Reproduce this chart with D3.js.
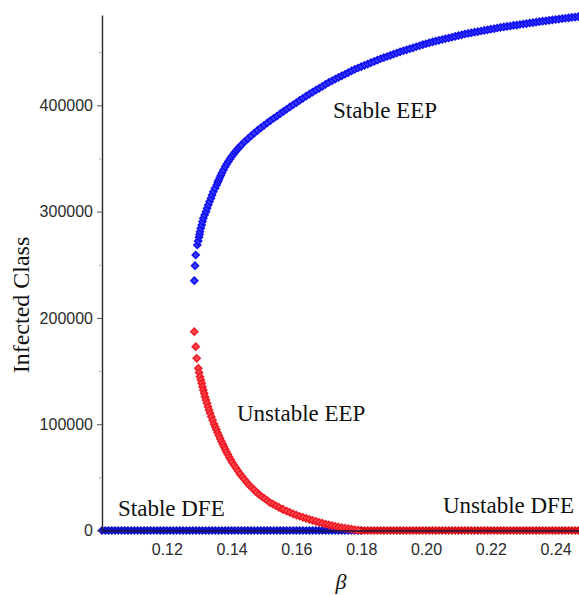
<!DOCTYPE html>
<html>
<head>
<meta charset="utf-8">
<script src="https://cdn.jsdelivr.net/npm/d3@7/dist/d3.min.js"></script>
<style>
  body { margin: 0; background: #fff; }
  svg { display: block; }
</style>
</head>
<body>
<svg id="chart" width="579" height="595"></svg>
<script>
// ---- Bifurcation data: infected class I against transmission rate beta ----

// Stable endemic equilibrium (upper branch), from the fold upwards
const stableEepBeta = [
  0.12849, 0.12870, 0.12892, 0.12941, 0.12969, 0.12994, 0.13009, 0.13025, 0.13049, 0.13077,
  0.13102, 0.13127, 0.13167, 0.13210, 0.13244, 0.13281, 0.13321, 0.13364, 0.13398, 0.13435,
  0.13488, 0.13540, 0.13571, 0.136, 0.13633, 0.13667, 0.137, 0.1375, 0.138, 0.1385,
  0.139, 0.1395, 0.140, 0.1405, 0.141, 0.1415, 0.142, 0.1425, 0.143, 0.144,
  0.145, 0.146, 0.147, 0.148, 0.149, 0.150, 0.151, 0.152, 0.153, 0.154,
  0.155, 0.156, 0.157, 0.158, 0.159, 0.160, 0.161, 0.162, 0.163, 0.164,
  0.165, 0.166, 0.167, 0.168, 0.169, 0.170, 0.171, 0.172, 0.173, 0.174,
  0.175, 0.176, 0.177, 0.178, 0.179, 0.180, 0.181, 0.182, 0.183, 0.184,
  0.185, 0.186, 0.187, 0.188, 0.189, 0.190, 0.191, 0.192, 0.193, 0.194,
  0.195, 0.196, 0.197, 0.198, 0.199, 0.200, 0.201, 0.202, 0.203, 0.204,
  0.205, 0.206, 0.207, 0.208, 0.209, 0.210, 0.211, 0.212, 0.213, 0.214,
  0.215, 0.216, 0.217, 0.218, 0.219, 0.220, 0.221, 0.222, 0.223, 0.224,
  0.225, 0.226, 0.227, 0.228, 0.229, 0.230, 0.231, 0.232, 0.233, 0.234,
  0.235, 0.236, 0.237, 0.238, 0.239, 0.240, 0.241, 0.242, 0.243, 0.244,
  0.245, 0.246, 0.247, 0.248
];
const stableEepI = [
  235000, 249100, 259200, 268600, 272300, 275800, 278400, 281100, 284300, 287400,
  290600, 293700, 296800, 299900, 303100, 306200, 309400, 312500, 315600, 318700,
  321900, 325000, 327500, 329400, 331800, 334000, 336200, 339200, 342100, 344700,
  347100, 349600, 351600, 353700, 355800, 357500, 359300, 361000, 362600, 365700,
  368500, 371200, 373800, 376400, 378700, 381100, 383400, 385600, 387800, 389900,
  392100, 394200, 396300, 398500, 400500, 402500, 404600, 406600, 408600, 410500,
  412400, 414200, 416000, 417800, 419700, 421500, 423100, 424700, 426200, 427700,
  429200, 430800, 432300, 433800, 435100, 436300, 437600, 438800, 440100, 441300,
  442500, 443800, 444900, 445900, 447000, 448100, 449200, 450300, 451300, 452200,
  453200, 454100, 455100, 456000, 457000, 457900, 458800, 459600, 460400, 461100,
  461900, 462600, 463300, 464000, 464800, 465600, 466300, 467100, 467600, 468200,
  468800, 469300, 469900, 470400, 471000, 471600, 472100, 472700, 473300, 473700,
  474200, 474600, 475100, 475500, 476000, 476500, 476900, 477400, 477800, 478300,
  478700, 479100, 479500, 479900, 480300, 480700, 481100, 481500, 481900, 482300,
  482700, 483000, 483400, 483800
];

// Unstable endemic equilibrium (lower branch), from the fold down to I = 0
const unstableEepBeta = [
  0.12849, 0.12892, 0.12923, 0.12972, 0.12997, 0.13025, 0.13051, 0.13077, 0.13102, 0.13127,
  0.13153, 0.13179, 0.13210, 0.13241, 0.13272, 0.13302, 0.13338, 0.13373, 0.13415, 0.13457,
  0.13493, 0.13529, 0.13565, 0.13606, 0.13647, 0.13688, 0.13727, 0.13765, 0.13804, 0.13843,
  0.13885, 0.13927, 0.13970, 0.14012, 0.14074, 0.14136, 0.14198, 0.14259, 0.14329, 0.14398,
  0.14468, 0.14537, 0.14614, 0.14691, 0.14769, 0.14846, 0.14931, 0.15015, 0.15100, 0.15185,
  0.15278, 0.15370, 0.15463, 0.15556, 0.156, 0.157, 0.158, 0.159, 0.160, 0.161,
  0.162, 0.163, 0.164, 0.165, 0.166, 0.167, 0.168, 0.169, 0.170, 0.171,
  0.172, 0.173, 0.174, 0.175, 0.176, 0.177, 0.178, 0.179
];
const unstableEepI = [
  187000, 172900, 162000, 152600, 148600, 144700, 141600, 138500, 135300, 132200,
  129000, 125900, 122800, 119700, 116500, 113400, 110200, 107100, 103600, 100200,
  97500, 94900, 92200, 89400, 86500, 83700, 81200, 78800, 76300, 73800,
  71500, 69100, 66800, 64400, 61600, 58800, 56000, 53100, 50600, 48000,
  45400, 42800, 40600, 38300, 36100, 33900, 32000, 30100, 28200, 26300,
  24800, 23300, 21700, 20200, 19600, 18300, 17000, 15700, 14500, 13400,
  12400, 11400, 10400, 9500, 8600, 7700, 6900, 6000, 5300, 4600,
  4000, 3300, 2700, 2200, 1700, 1300, 800, 400
];

// Disease-free equilibrium (I = 0): stable below beta = 0.18, unstable above
const stableDfeBeta = [
  0.100, 0.101, 0.102, 0.103, 0.104, 0.105, 0.106, 0.107, 0.108, 0.109,
  0.110, 0.111, 0.112, 0.113, 0.114, 0.115, 0.116, 0.117, 0.118, 0.119,
  0.120, 0.121, 0.122, 0.123, 0.124, 0.125, 0.126, 0.127, 0.128, 0.129,
  0.130, 0.131, 0.132, 0.133, 0.134, 0.135, 0.136, 0.137, 0.138, 0.139,
  0.140, 0.141, 0.142, 0.143, 0.144, 0.145, 0.146, 0.147, 0.148, 0.149,
  0.150, 0.151, 0.152, 0.153, 0.154, 0.155, 0.156, 0.157, 0.158, 0.159,
  0.160, 0.161, 0.162, 0.163, 0.164, 0.165, 0.166, 0.167, 0.168, 0.169,
  0.170, 0.171, 0.172, 0.173, 0.174, 0.175, 0.176, 0.177, 0.178, 0.179,
  0.180
];
const unstableDfeBeta = [
  0.180, 0.181, 0.182, 0.183, 0.184, 0.185, 0.186, 0.187, 0.188, 0.189,
  0.190, 0.191, 0.192, 0.193, 0.194, 0.195, 0.196, 0.197, 0.198, 0.199,
  0.200, 0.201, 0.202, 0.203, 0.204, 0.205, 0.206, 0.207, 0.208, 0.209,
  0.210, 0.211, 0.212, 0.213, 0.214, 0.215, 0.216, 0.217, 0.218, 0.219,
  0.220, 0.221, 0.222, 0.223, 0.224, 0.225, 0.226, 0.227, 0.228, 0.229,
  0.230, 0.231, 0.232, 0.233, 0.234, 0.235, 0.236, 0.237, 0.238, 0.239,
  0.240, 0.241, 0.242, 0.243, 0.244, 0.245, 0.246, 0.247, 0.248, 0.249,
  0.250
];
const dfeI = 0;

// Axis ticks
const xTicks = [0.12, 0.14, 0.16, 0.18, 0.20, 0.22, 0.24];
const yTicks = [0, 100000, 200000, 300000, 400000];
const yMinorTicks = [50000, 150000, 250000, 350000, 450000];

// Region labels
const regionLabels = ["Stable EEP", "Unstable EEP", "Stable DFE", "Unstable DFE"];

// ---- Layout ----
const width = 579, height = 595;
const left = 102, bottom = 530.5;
const pxPer100k = 106.3;
const yMax = 485000;

const x = d3.scaleLinear().domain([0.10, 0.25]).range([left, left + 0.15 * 3240]);
const y = d3.scaleLinear().domain([0, yMax]).range([bottom, bottom - yMax / 100000 * pxPer100k]);

const svg = d3.select("#chart");
svg.append("rect").attr("width", width).attr("height", height).attr("fill", "#fff");

const BLUE = "#1212f2", BLUE_FILL = "#3c3cff";
const RED = "#ef1c26", RED_FILL = "#ff4c54";
const BLUE_DFE = "#1010c8", RED_DFE = "#d41018";

// Diamond marker: a square turned by 45 degrees
const diamond = d3.symbol().type(d3.symbolSquare).size(24)();

function plotPoints(betas, values, stroke, fill, cls) {
  const pts = betas.map((b, i) => ({ b, v: Array.isArray(values) ? values[i] : values }));
  svg.append("g").attr("class", cls)
    .selectAll("path")
    .data(pts)
    .join("path")
    .attr("d", diamond)
    .attr("transform", d => `translate(${x(d.b)},${y(d.v)}) rotate(45)`)
    .attr("fill", fill)
    .attr("stroke", stroke)
    .attr("stroke-width", 1.6);
}

plotPoints(stableDfeBeta, dfeI, BLUE_DFE, BLUE_DFE, "dfe-stable");
plotPoints(unstableDfeBeta, dfeI, RED_DFE, RED_DFE, "dfe-unstable");
plotPoints(stableEepBeta, stableEepI, BLUE, BLUE_FILL, "eep-stable");
plotPoints(unstableEepBeta, unstableEepI, RED, RED_FILL, "eep-unstable");

// ---- Axes ----
const tickFont = "'Liberation Sans', Arial, sans-serif";

const yAxis = svg.append("g")
  .attr("transform", `translate(${left},0)`)
  .call(d3.axisLeft(y).tickValues(yTicks).tickSize(5).tickPadding(4).tickSizeOuter(0)
        .tickFormat(d3.format("d")));
yAxis.select(".domain").attr("stroke", "#2a2a2a").attr("stroke-width", 1.4);
yAxis.selectAll(".tick line").attr("stroke", "#555");
yAxis.selectAll(".tick text")
  .attr("font-family", tickFont).attr("font-size", 16).attr("fill", "#2b2b2b");

const yMinor = svg.append("g")
  .attr("transform", `translate(${left},0)`)
  .call(d3.axisLeft(y).tickValues(yMinorTicks).tickSize(3).tickFormat(""));
yMinor.select(".domain").remove();
yMinor.selectAll(".tick line").attr("stroke", "#aaa");

const xAxis = svg.append("g")
  .attr("transform", `translate(0,${bottom})`)
  .call(d3.axisBottom(x).tickValues(xTicks).tickSize(0).tickPadding(13).tickSizeOuter(0)
        .tickFormat(d3.format(".2f")));
xAxis.select(".domain").attr("stroke", "#1a1a3a").attr("stroke-width", 1.4);
xAxis.selectAll(".tick text")
  .attr("font-family", tickFont).attr("font-size", 16).attr("fill", "#2b2b2b");

// ---- Axis titles ----
const serif = "'Liberation Serif', 'Times New Roman', serif";

svg.append("text")
  .attr("transform", "translate(29,305) rotate(-90)")
  .attr("text-anchor", "middle")
  .attr("font-family", serif).attr("font-size", 24).attr("fill", "#111")
  .text("Infected Class");

svg.append("text")
  .attr("x", 341).attr("y", 589)
  .attr("text-anchor", "middle")
  .attr("font-family", serif).attr("font-style", "italic").attr("font-size", 22).attr("fill", "#111")
  .text("β");

// ---- Region annotations ----
const annot = svg.append("g")
  .attr("font-family", serif).attr("font-size", 23).attr("fill", "#111");
annot.append("text").attr("x", 333).attr("y", 118).text(regionLabels[0]);
annot.append("text").attr("x", 237).attr("y", 421).text(regionLabels[1]);
annot.append("text").attr("x", 118).attr("y", 516).text(regionLabels[2]);
annot.append("text").attr("x", 443).attr("y", 513).text(regionLabels[3]);
</script>
</body>
</html>
